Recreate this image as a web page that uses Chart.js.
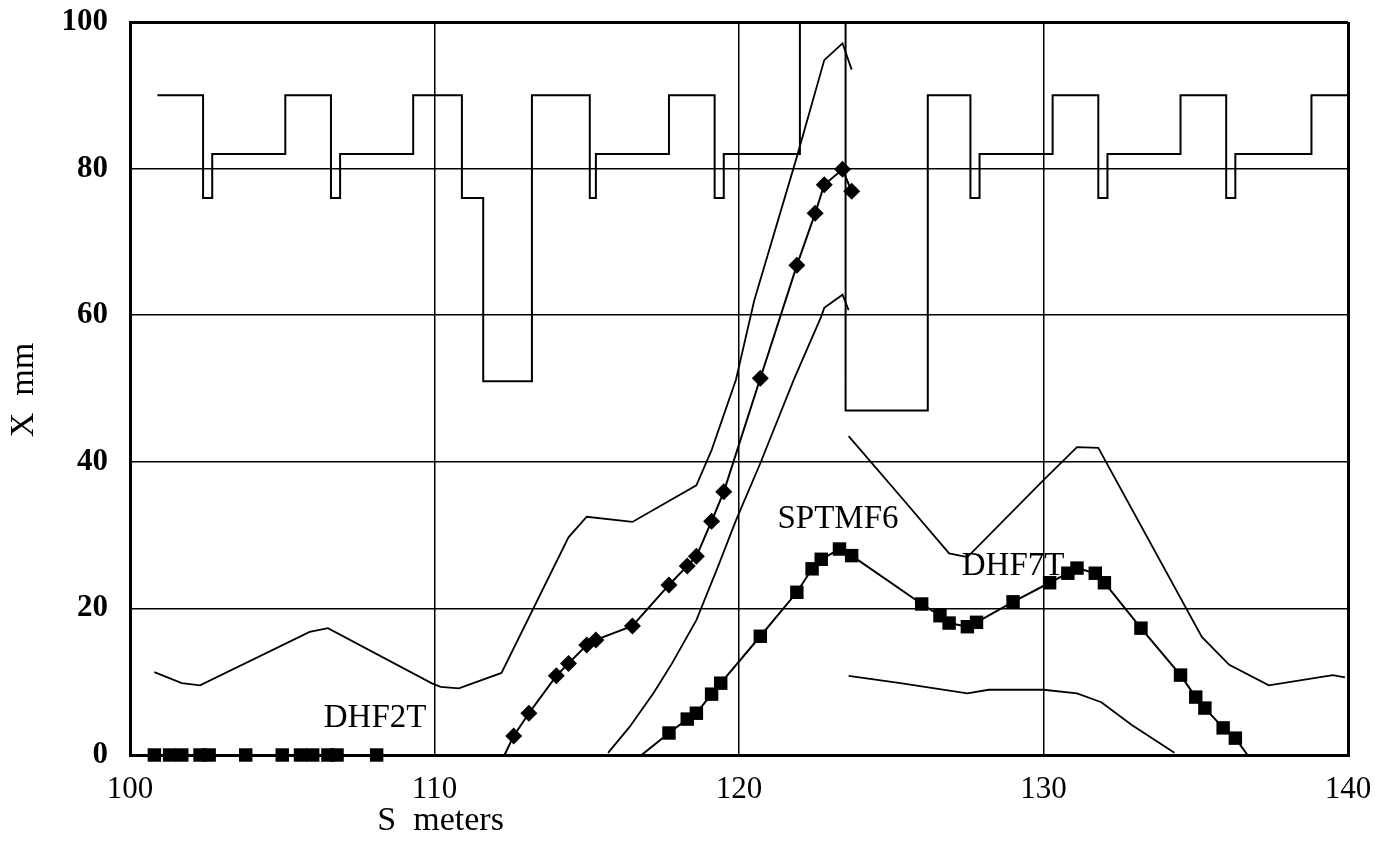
<!DOCTYPE html>
<html>
<head>
<meta charset="utf-8">
<script src="https://cdn.jsdelivr.net/npm/chart.js@4/dist/chart.umd.min.js"></script>
<style>
  html, body { margin: 0; padding: 0; background: #fff; }
  #wrap { width: 1387px; height: 845px; position: relative; }
</style>
</head>
<body>
<div id="wrap"><canvas id="grafico"></canvas></div>
<script>
// S (meters) / X (mm) values

// aperture limit, stepped: each level starts at its S value
const apertureS = [100.9, 102.4, 102.7, 105.1, 106.6, 106.9, 109.3, 110.9, 111.6, 113.2, 115.1, 115.3, 117.7, 119.2, 119.5, 122.0, 123.5, 126.2, 127.6, 127.9, 130.3, 131.8, 132.1, 134.5, 136.0, 136.3, 138.8, 140.0];
const apertureX = [90, 76, 82, 90, 76, 82, 90, 76, 51, 90, 76, 82, 90, 76, 82, 100, 47, 90, 76, 82, 90, 76, 82, 90, 76, 82, 90, 90];

// beam envelope, upstream part
const envUpLeftS = [100.8, 101.7, 102.3, 105.9, 106.5, 109.9, 110.2, 110.8, 112.2, 114.4, 115.0, 116.5, 118.6, 119.1, 119.9, 120.5, 121.9, 122.8, 123.4, 123.7];
const envUpLeftX = [11.3, 9.8, 9.5, 16.8, 17.3, 9.8, 9.3, 9.1, 11.2, 29.7, 32.5, 31.8, 36.8, 41.6, 51.2, 62.0, 81.6, 94.8, 97.1, 93.5];
const envLowLeftS = [115.7, 116.4, 117.2, 117.8, 118.6, 119.3, 119.9, 120.7, 121.8, 122.7, 122.8, 123.4, 123.6];
const envLowLeftX = [0.3, 3.8, 8.5, 12.5, 18.4, 25.6, 32.0, 39.8, 51.2, 59.8, 61.0, 62.8, 60.7];

// beam envelope, downstream part
const envUpRightS = [123.6, 125.3, 126.9, 127.5, 130.0, 131.1, 131.8, 135.2, 136.1, 137.4, 139.5, 139.9];
const envUpRightX = [43.5, 35.3, 27.5, 27.0, 37.5, 42.0, 41.9, 16.1, 12.3, 9.5, 10.9, 10.6];
const envLowRightS = [123.6, 125.3, 127.5, 128.2, 130.0, 131.1, 131.9, 132.9, 134.3];
const envLowRightX = [10.8, 9.8, 8.4, 8.9, 8.9, 8.4, 7.2, 4.1, 0.3];

// orbit with diamond markers (first point is the unmarked start on the axis)
const diamondS = [112.3, 112.6, 113.1, 114.0, 114.4, 115.0, 115.3, 116.5, 117.7, 118.3, 118.6, 119.1, 119.5, 120.7, 121.9, 122.5, 122.8, 123.4, 123.7];
const diamondX = [0.0, 2.6, 5.7, 10.8, 12.5, 15.0, 15.7, 17.6, 23.2, 25.8, 27.1, 31.9, 35.9, 51.4, 66.8, 73.9, 77.8, 79.9, 76.9];

// orbit with square markers (first and last points are unmarked ends on the axis)
const squareS = [116.8, 117.7, 118.3, 118.6, 119.1, 119.4, 120.7, 121.9, 122.4, 122.7, 123.3, 123.7, 126.0, 126.6, 126.9, 127.5, 127.8, 129.0, 130.2, 130.8, 131.1, 131.7, 132.0, 133.2, 134.5, 135.0, 135.3, 135.9, 136.3, 136.7];
const squareX = [0.0, 3.0, 4.9, 5.7, 8.3, 9.8, 16.2, 22.2, 25.4, 26.7, 28.1, 27.2, 20.6, 19.0, 18.0, 17.5, 18.1, 20.9, 23.5, 24.8, 25.5, 24.8, 23.5, 17.3, 10.9, 7.9, 6.4, 3.7, 2.3, 0.0];

// zero orbit around DHF2T
const zeroS = [100.8, 101.3, 101.7, 102.3, 102.6, 103.8, 105.0, 105.6, 106.0, 106.5, 106.8, 108.1];
const zeroX = [0, 0, 0, 0, 0, 0, 0, 0, 0, 0, 0, 0];

// element names
const elementNames = ['DHF2T', 'SPTMF6', 'DHF7T'];
const elementS = [108.05, 123.25, 129.0];
const elementX = [5.0, 32.1, 25.8];

const xTicks = [100, 110, 120, 130, 140];
const yTicks = [0, 20, 40, 60, 80, 100];

const FONT = '"Liberation Serif", "Times New Roman", serif';

function pontos(s, x) {
    return s.map((v, i) => ({ x: v, y: x[i] }));
}

// hide markers at the unmarked ends
function raioMarcado(raio, semMarca) {
    return ctx => semMarca.includes(ctx.dataIndex) ? 0 : raio;
}

const linhaFina = { showLine: true, pointRadius: 0, borderColor: '#000', borderWidth: 1.8, tension: 0 };

const textos = {
    id: 'textos',
    afterDraw(chart) {
        const ctx = chart.ctx;
        const xs = chart.scales.x, ys = chart.scales.y;
        ctx.save();
        ctx.fillStyle = '#000';
        ctx.textAlign = 'center';
        ctx.textBaseline = 'middle';
        ctx.font = '33px ' + FONT;
        elementNames.forEach((t, i) => {
            ctx.fillText(t, xs.getPixelForValue(elementS[i]), ys.getPixelForValue(elementX[i]));
        });

        // axis titles
        ctx.font = '34px ' + FONT;
        ctx.fillText('S  meters', xs.getPixelForValue(110.2), chart.chartArea.bottom + 66);
        ctx.translate(24, 390);
        ctx.rotate(-Math.PI / 2);
        ctx.fillText('X  mm', 0, 0);
        ctx.restore();
    }
};

document.addEventListener('DOMContentLoaded', function () {
    const ctx = document.getElementById('grafico').getContext('2d');
    new Chart(ctx, {
        type: 'scatter',
        data: {
            datasets: [
                {
                    label: 'Aperture',
                    data: pontos(apertureS, apertureX),
                    ...linhaFina,
                    borderWidth: 2,
                    stepped: 'before'
                },
                { label: 'Envelope up 1', data: pontos(envUpLeftS, envUpLeftX), ...linhaFina },
                { label: 'Envelope low 1', data: pontos(envLowLeftS, envLowLeftX), ...linhaFina },
                { label: 'Envelope up 2', data: pontos(envUpRightS, envUpRightX), ...linhaFina },
                { label: 'Envelope low 2', data: pontos(envLowRightS, envLowRightX), ...linhaFina },
                {
                    label: 'Orbit A',
                    data: pontos(diamondS, diamondX),
                    showLine: true,
                    borderColor: '#000',
                    backgroundColor: '#000',
                    borderWidth: 2,
                    pointStyle: 'rectRot',
                    pointRadius: raioMarcado(8.5, [0]),
                    pointBorderWidth: 0,
                    clip: false
                },
                {
                    label: 'Orbit B',
                    data: pontos(squareS, squareX),
                    showLine: true,
                    borderColor: '#000',
                    backgroundColor: '#000',
                    borderWidth: 2,
                    pointStyle: 'rect',
                    pointRadius: raioMarcado(9.5, [0, squareS.length - 1]),
                    pointBorderWidth: 0,
                    clip: false
                },
                {
                    label: 'Orbit zero',
                    data: pontos(zeroS, zeroX),
                    showLine: true,
                    borderColor: '#000',
                    backgroundColor: '#000',
                    borderWidth: 2,
                    pointStyle: 'rect',
                    pointRadius: 9.5,
                    pointBorderWidth: 0,
                    clip: false
                }
            ]
        },
        options: {
            responsive: true,
            maintainAspectRatio: false,
            animation: false,
            events: [],
            layout: { padding: { top: 22, right: 39, left: 0, bottom: 0 } },
            plugins: {
                legend: { display: false },
                tooltip: { enabled: false }
            },
            scales: {
                x: {
                    type: 'linear',
                    min: 100,
                    max: 140,
                    afterBuildTicks: s => { s.ticks = xTicks.map(v => ({ value: v })); },
                    afterFit: s => { s.height = 90; s.paddingLeft = 0; s.paddingRight = 0; },
                    grid: {
                        color: '#000',
                        lineWidth: c => (c.tick && (c.tick.value === 100 || c.tick.value === 140)) ? 3 : 1.5,
                        drawTicks: false
                    },
                    border: { display: true, color: '#000', width: 3 },
                    ticks: {
                        color: '#000',
                        padding: 16,
                        maxRotation: 0,
                        font: { family: FONT, size: 31 }
                    }
                },
                y: {
                    type: 'linear',
                    min: 0,
                    max: 100,
                    afterBuildTicks: s => { s.ticks = yTicks.map(v => ({ value: v })); },
                    afterFit: s => { s.width = 130; s.paddingTop = 0; s.paddingBottom = 0; },
                    grid: {
                        color: '#000',
                        lineWidth: c => (c.tick && c.tick.value === 100) ? 3 : 1.5,
                        drawTicks: false
                    },
                    border: { display: true, color: '#000', width: 3 },
                    ticks: {
                        color: '#000',
                        padding: 22,
                        font: { family: FONT, size: 31, weight: 'bold' }
                    }
                }
            }
        },
        plugins: [textos]
    });
});
</script>
</body>
</html>
